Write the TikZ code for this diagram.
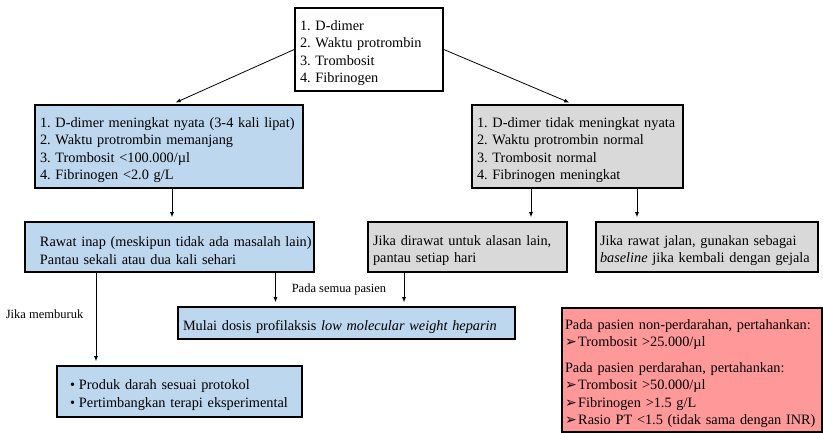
\documentclass[tikz,border=0pt]{standalone}
\usepackage{fontspec}
\setmainfont{Liberation Serif}
\newfontfamily\panahfont{DejaVu Sans}
\usetikzlibrary{arrows.meta}
\definecolor{biru}{HTML}{BDD7EE}
\definecolor{abu}{HTML}{D9D9D9}
\definecolor{merah}{HTML}{FF9999}
\tikzstyle{kotak}=[draw,line width=1.6pt,align=left,inner xsep=5pt,inner ysep=5pt,font=\rmfamily\fontsize{14.3}{17.5}\selectfont,execute at begin node={\rule{0pt}{17.5pt}}]
\tikzstyle{panah}=[-{Latex[length=5pt,width=4pt]},line width=0.8pt,shorten >=4pt]
\tikzstyle{ket}=[font=\rmfamily\fontsize{12.5}{15}\selectfont]
\newcommand{\panahku}{{\panahfont\fontsize{14}{15}\selectfont ➢}\hspace{1.5pt}}

\begin{document}
\frenchspacing
\begin{tikzpicture}[x=1pt,y=-1pt]
\useasboundingbox (0,0) rectangle (823,433);
\node[kotak, text width=138, minimum height=81] (Tes) at (369,49.5)
  {1. D-dimer\\2. Waktu protrombin\\3. Trombosit\\4. Fibrinogen};
\node[kotak, fill=biru, text width=258, minimum height=83] (Nyata) at (169,146.5)
  {1. D-dimer meningkat nyata (3-4 kali lipat)\\2. Waktu protrombin memanjang\\3. Trombosit <100.000/µl\\4. Fibrinogen <2.0 g/L};
\node[kotak, fill=abu, text width=201, minimum height=83] (TdkNyata) at (577.5,146.5)
  {1. D-dimer tidak meningkat nyata\\2. Waktu protrombin normal\\3. Trombosit normal\\4. Fibrinogen meningkat};
\node[kotak, fill=biru, inner xsep=2pt, text width=285, minimum height=50] (Inap) at (169.5,247)
  {\hspace*{13pt}Rawat inap (meskipun tidak ada masalah lain)\\\hspace*{13pt}Pantau sekali atau dua kali sehari};
\node[kotak, fill=abu, text width=189, minimum height=50] (Dirawat) at (467.5,247)
  {\makebox[189pt][s]{Jika dirawat untuk alasan lain,}\\pantau setiap hari};
\node[kotak, fill=abu, inner xsep=4pt, text width=214, minimum height=50] (Jalan) at (707,247)
  {\makebox[214pt][s]{Jika rawat jalan, gunakan sebagai}\\\textit{baseline} jika kembali dengan gejala};
\node[kotak, fill=biru, text width=327, minimum height=32, execute at begin node={}] (Mulai) at (346.5,323)
  {Mulai dosis profilaksis \textit{low molecular weight heparin}};
\node[kotak, fill=biru, text width=235, minimum height=51] (Produk) at (179.5,391.5)
  {\hspace*{8pt}•\hspace{4pt}Produk darah sesuai protokol\\\hspace*{8pt}•\hspace{4pt}Pertimbangkan terapi eksperimental};
\node[kotak, fill=merah, inner xsep=3pt, inner ysep=4pt, text width=254, minimum height=124, execute at begin node={}] (Target) at (692,370)
  {Pada pasien non-perdarahan, pertahankan:\\\panahku Trombosit >25.000/µl\\[8pt]
   Pada pasien perdarahan, pertahankan:\\\panahku Trombosit >50.000/µl\\\panahku Fibrinogen >1.5 g/L\\\panahku Rasio PT <1.5 (tidak sama dengan INR)};
% titik awal panah
\coordinate (n1) at ([xshift=3pt]Nyata.north);
\coordinate (g1) at ([xshift=-46.5pt]TdkNyata.south);
\coordinate (g2) at ([xshift=59.5pt]TdkNyata.south);
\coordinate (i1) at ([xshift=106pt]Inap.south);
\coordinate (i2) at ([xshift=-73.5pt]Inap.south);
\coordinate (d1) at ([xshift=-63.5pt]Dirawat.south);
\draw[panah] (Tes.west) -- (n1);
\draw[panah] (Tes.east) -- ([xshift=-4.5pt]TdkNyata.north);
\draw[panah] ([xshift=3pt]Nyata.south) -- ([xshift=2.5pt]Inap.north);
\draw[panah] (g1) -- (g1 |- Dirawat.north);
\draw[panah] (g2) -- (g2 |- Jalan.north);
\draw[panah] (i1) -- (i1 |- Mulai.north);
\draw[panah] (d1) -- (d1 |- Mulai.north);
\draw[panah] (i2) -- (i2 |- Produk.north) node[ket, pos=0.45, left=9pt] {Jika memburuk};
\node[ket] (Semua) at (339,289) {Pada semua pasien};
\end{tikzpicture}
\end{document}
